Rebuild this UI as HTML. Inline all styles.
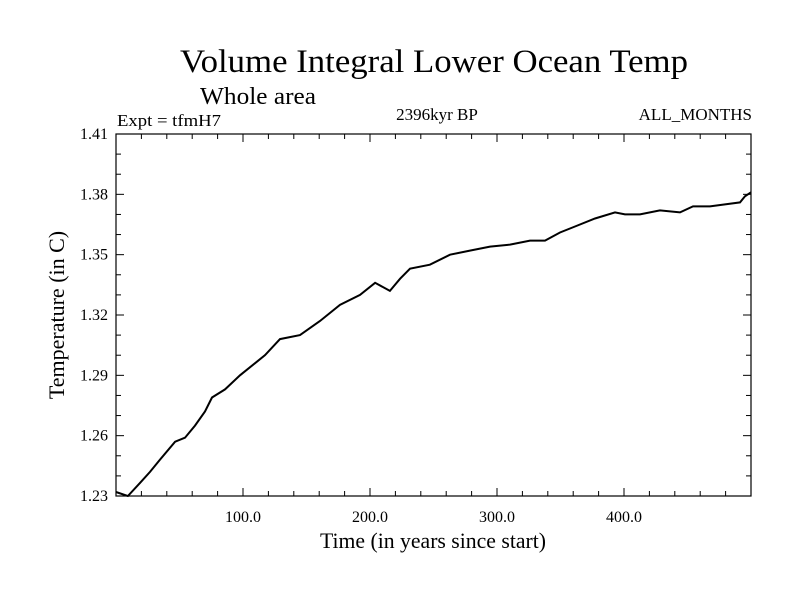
<!DOCTYPE html>
<html><head><meta charset="utf-8"><style>
body{margin:0;background:#fff}
svg text{font-family:"Liberation Serif",serif;fill:#000}
</style></head><body>
<svg width="800" height="600" viewBox="0 0 800 600" id="c">
<text x="180" y="72" font-size="33" textLength="508" lengthAdjust="spacingAndGlyphs">Volume Integral Lower Ocean Temp</text>
<text x="200" y="104" font-size="24" textLength="116" lengthAdjust="spacingAndGlyphs">Whole area</text>
<text x="117" y="126" font-size="17" textLength="104" lengthAdjust="spacingAndGlyphs">Expt = tfmH7</text>
<text x="437" y="120" font-size="17" text-anchor="middle">2396kyr BP</text>
<text x="752" y="120" font-size="17" text-anchor="end">ALL_MONTHS</text>
<text x="320" y="548" font-size="22" textLength="226" lengthAdjust="spacingAndGlyphs">Time (in years since start)</text>
<text transform="translate(64,315) rotate(-90)" font-size="22" text-anchor="middle">Temperature (in C)</text>
<rect x="116" y="134" width="635" height="362" fill="none" stroke="#000" stroke-width="1.2"/>
<g id="axes"></g>
<path id="line" fill="none" stroke="#000" stroke-width="2"/>
</svg>
<script>
const years=[0,9.4,18.9,26.8,34.6,46.5,54.3,62.2,70.1,75.6,85.8,97.6,109.4,117.3,129.1,144.9,160.6,176.4,192.1,204,215.7,223.6,231.5,247.2,263,278.7,294.5,310.2,326,337.8,349.6,361.4,377.2,392.9,400.8,412.6,428.3,444.1,454.3,467.7,479.5,491.3,495.3,500];
const temps=[1.232,1.230,1.2365,1.242,1.248,1.257,1.259,1.265,1.272,1.279,1.283,1.290,1.296,1.300,1.308,1.310,1.317,1.325,1.330,1.336,1.332,1.338,1.343,1.345,1.350,1.352,1.354,1.355,1.357,1.357,1.361,1.364,1.368,1.371,1.370,1.370,1.372,1.371,1.374,1.374,1.375,1.376,1.379,1.381];
const yTicks=[1.23,1.26,1.29,1.32,1.35,1.38,1.41];
const xTicks=[100,200,300,400];
const X0=116,X1=751,Y0=496,Y1=134,xmin=0,xmax=500,ymin=1.23,ymax=1.41;
const sx=v=>X0+(v-xmin)/(xmax-xmin)*(X1-X0);
const sy=v=>Y0-(v-ymin)/(ymax-ymin)*(Y0-Y1);
const ns="http://www.w3.org/2000/svg",g=document.getElementById('axes');
function ln(x1,y1,x2,y2){const l=document.createElementNS(ns,'line');l.setAttribute('x1',x1);l.setAttribute('y1',y1);l.setAttribute('x2',x2);l.setAttribute('y2',y2);l.setAttribute('stroke','#000');


g.appendChild(l);}
for(let v=20;v<500;v+=20){const x=sx(v),big=v%100===0?8:5;ln(x,Y0,x,Y0-big);ln(x,Y1,x,Y1+big);}
for(let i=1;i<18;i++){const y=sy(ymin+i*0.01),big=i%3===0?8:5;ln(X0,y,X0+big,y);ln(X1,y,X1-big,y);}
yTicks.forEach(v=>{const t=document.createElementNS(ns,'text');t.setAttribute('x',108);t.setAttribute('y',sy(v)+5);t.setAttribute('text-anchor','end');t.setAttribute('font-size','16');t.textContent=v.toFixed(2);


g.appendChild(t);});
xTicks.forEach(v=>{const t=document.createElementNS(ns,'text');t.setAttribute('x',sx(v));t.setAttribute('y',522);t.setAttribute('text-anchor','middle');t.setAttribute('font-size','16');t.textContent=v.toFixed(1);


g.appendChild(t);});
document.getElementById('line').setAttribute('d',years.map((y,i)=>(i?'L':'M')+sx(y).toFixed(1)+','+sy(temps[i]).toFixed(1)).join(''));
</script>
</body></html>
